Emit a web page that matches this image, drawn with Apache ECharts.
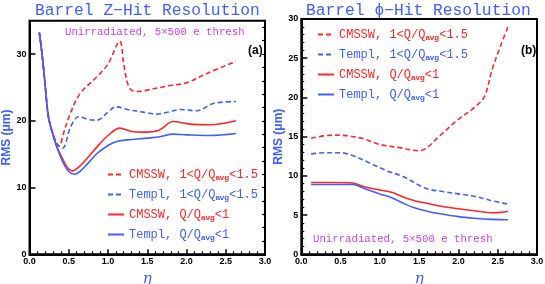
<!DOCTYPE html>
<html><head><meta charset="utf-8">
<script src="https://cdn.jsdelivr.net/npm/echarts@6/dist/echarts.min.js"></script>
<style>html,body{margin:0;padding:0;background:#fff}#c{width:545px;height:284px}</style>
</head><body><div id="c"></div>
<script>
// ---- data: [eta, RMS(um)] ----
const names = ['CMSSW, 1<Q/Qavg<1.5', 'Templ, 1<Q/Qavg<1.5', 'CMSSW, Q/Qavg<1', 'Templ, Q/Qavg<1'];
const titleZ = 'Barrel Z\u2212Hit Resolution';
const titleP = 'Barrel \u03d5\u2212Hit Resolution';
const noteText = 'Unirradiated, 5\u00d7500 e thresh';
const xTicks = [0, 0.5, 1.0, 1.5, 2.0, 2.5, 3.0];

const zCmsswHigh = [[0.125,33.2],[0.16,30],[0.2,25.3],[0.24,20.8],[0.3,18.0],[0.38,16.2],[0.43,18.0],[0.5,20.5],[0.64,24.0],[0.86,26.6],[1.0,28.5],[1.15,31.9],[1.2,28.5],[1.25,25.6],[1.3,24.6],[1.4,24.4],[1.5,24.6],[1.75,25.2],[2.0,25.7],[2.26,27.1],[2.63,28.9]];
const zTemplHigh = [[0.125,33.2],[0.16,30],[0.2,25.3],[0.24,20.8],[0.3,17.8],[0.36,16.4],[0.42,15.9],[0.52,19.0],[0.6,20.5],[0.64,20.6],[0.75,20.2],[0.86,20.1],[1.0,21.3],[1.1,22.1],[1.28,21.6],[1.45,21.3],[1.62,21.0],[1.8,21.4],[1.92,21.7],[2.13,21.5],[2.34,22.6],[2.63,22.9]];
const zCmsswLow  = [[0.125,33.2],[0.16,30],[0.2,25.3],[0.24,20.6],[0.3,18.0],[0.35,16.1],[0.43,14.1],[0.49,12.9],[0.55,12.5],[0.62,13.0],[0.7,13.9],[0.86,16.1],[1.0,17.8],[1.15,18.9],[1.3,18.4],[1.45,18.3],[1.65,18.6],[1.83,19.9],[2.04,19.5],[2.3,19.4],[2.63,20.0]];
const zTemplLow  = [[0.125,33.2],[0.16,30],[0.2,25.3],[0.24,20.6],[0.3,17.9],[0.35,16.0],[0.43,13.7],[0.5,12.4],[0.57,12.0],[0.65,12.5],[0.75,13.7],[0.86,15.1],[1.0,16.3],[1.11,16.9],[1.3,17.2],[1.5,17.4],[1.66,17.6],[1.83,18.0],[2.0,17.9],[2.3,17.8],[2.63,18.1]];

const pCmsswHigh = [[0.125,14.8],[0.4,15.2],[0.6,15.1],[0.8,14.7],[1.0,14.0],[1.25,13.6],[1.5,13.2],[1.6,13.6],[1.75,15.0],[2.0,17.2],[2.2,18.7],[2.33,20.1],[2.43,23.6],[2.53,26.4],[2.63,29.0]];
const pTemplHigh = [[0.125,12.8],[0.3,12.95],[0.5,12.95],[0.65,12.6],[0.9,11.5],[1.1,10.6],[1.3,9.9],[1.5,8.8],[1.62,8.3],[1.8,8.0],[2.0,7.7],[2.2,7.4],[2.4,6.9],[2.63,6.4]];
const pCmsswLow  = [[0.125,9.15],[0.4,9.15],[0.65,9.1],[0.8,8.6],[1.0,8.2],[1.15,7.9],[1.3,7.3],[1.45,6.8],[1.6,6.5],[1.8,6.1],[2.0,5.8],[2.2,5.55],[2.43,5.3],[2.55,5.35],[2.63,5.5]];
const pTemplLow  = [[0.125,8.9],[0.4,8.9],[0.65,8.9],[0.8,8.4],[1.0,7.7],[1.15,7.2],[1.3,6.5],[1.45,5.9],[1.6,5.5],[1.75,5.2],[2.0,4.8],[2.2,4.6],[2.43,4.45],[2.63,4.4]];

// ---- styling ----
const RED = '#ff2626', BLUE = '#3f5fff', MAG = '#cc3ff0', TBLUE = '#3f5fff';
const MONO = '"Liberation Mono", "DejaVu Sans Mono", monospace';
const SANS = '"Liberation Sans", Arial, sans-serif';
const colorOf = n => n.indexOf('CMSSW') === 0 ? RED : BLUE;
const dashOf = n => n.indexOf('1.5') > 0 ? [5, 3] : 'solid';

function legendFmt(name) {
  const c = colorOf(name) === RED ? 'r' : 'b';
  const i = name.indexOf('Qavg');
  const pre = name.slice(0, i + 1), post = name.slice(i + 4);
  return '{' + c + '|' + pre + '}{' + c + 's|avg}{' + c + '|' + post + '}';
}
const richLeg = {
  r: {color: RED, fontFamily: MONO, fontSize: 12, lineHeight: 14},
  b: {color: BLUE, fontFamily: MONO, fontSize: 12, lineHeight: 14},
  rs: {color: RED, fontFamily: SANS, fontWeight: 'bold', fontSize: 8, lineHeight: 14, padding: [7, 0, 0, 0]},
  bs: {color: BLUE, fontFamily: SANS, fontWeight: 'bold', fontSize: 8, lineHeight: 14, padding: [7, 0, 0, 0]}
};

function xAx(gi) {
  return {
    type: 'value', gridIndex: gi, min: 0, max: 3, interval: 0.5,
    name: '\u03b7', nameLocation: 'middle', nameGap: 20,
    nameTextStyle: {color: TBLUE, fontFamily: '"DejaVu Serif", serif', fontStyle: 'italic', fontSize: 15, verticalAlign: 'middle'},
    axisLine: {show: true, lineStyle: {color: '#000', width: 2}},
    axisTick: {show: true, inside: true, length: 5, lineStyle: {color: '#000', width: 1.5}},
    minorTick: {show: true, splitNumber: 5, length: 3, lineStyle: {color: '#000', width: 1.2}},
    splitLine: {show: false},
    axisLabel: {color: '#000', fontFamily: SANS, fontWeight: 'bold', fontSize: 9, margin: 3,
      formatter: v => v.toFixed(1)}
  };
}
function yAx(gi, max, interval, minorSplit, labels) {
  return {
    type: 'value', gridIndex: gi, min: 0, max: max, interval: interval,
    name: labels ? 'RMS (\u03bcm)' : '', nameLocation: 'middle', nameRotate: 90, nameGap: 16,
    nameTextStyle: {color: TBLUE, fontFamily: SANS, fontWeight: 'bold', fontSize: 12},
    axisLine: {show: true, lineStyle: {color: '#000', width: 2}},
    axisTick: {show: true, inside: true, length: labels ? 6 : 3, lineStyle: {color: '#000', width: labels ? 1.5 : 1.2}},
    minorTick: {show: minorSplit > 0, splitNumber: minorSplit || 5, length: 3, lineStyle: {color: '#000', width: 1.2}},
    splitLine: {show: false},
    axisLabel: {show: labels, showMaxLabel: max % interval === 0, color: '#000', fontFamily: SANS, fontWeight: 'bold', fontSize: 9, margin: 3}
  };
}
function ser(name, data, xi, yi) {
  return {
    type: 'line', name: name, data: data, xAxisIndex: xi, yAxisIndex: yi,
    smooth: 0.35, symbol: 'none', showSymbol: false, color: colorOf(name),
    lineStyle: {color: colorOf(name), width: 1.6, type: dashOf(name)}, z: 3
  };
}
function legend(left, top) {
  return {
    orient: 'vertical', left: left, top: top, padding: 0, itemWidth: 16, itemHeight: 14, itemGap: 5,
    selectedMode: false, data: names,
    itemStyle: {opacity: 0, borderWidth: 0},
    formatter: legendFmt, textStyle: {rich: richLeg}
  };
}
function txt(text, left, top, color, family, size, weight) {
  return {text: text, left: left, top: top, padding: 0,
    textStyle: {color: color, fontFamily: family, fontWeight: weight || 'normal', fontSize: size}};
}

const chart = echarts.init(document.getElementById('c'), null, {renderer: 'canvas'});
chart.setOption({
  animation: false,
  backgroundColor: '#fff',
  title: [
    txt(titleZ, 35, 3, TBLUE, MONO, 16.3),
    txt(titleP, 306, 3, TBLUE, MONO, 16.3),
    txt(noteText, 65, 27, MAG, MONO, 10.7),
    txt(noteText, 313, 234, MAG, MONO, 10.7),
    txt('(a)', 248, 45, '#000', SANS, 12, 'bold'),
    txt('(b)', 521, 45, '#000', SANS, 12, 'bold')
  ],
  grid: [
    {left: 29.5, top: 20.7, width: 235.5, height: 233.6, containLabel: false, outerBoundsMode: 'none',
     show: true, borderColor: '#000', borderWidth: 2, backgroundColor: 'transparent'},
    {left: 301.3, top: 19, width: 235.7, height: 235.3, containLabel: false, outerBoundsMode: 'none',
     show: true, borderColor: '#000', borderWidth: 2, backgroundColor: 'transparent'}
  ],
  xAxis: [xAx(0), xAx(1)],
  yAxis: [yAx(0, 35, 10, 0, true), yAx(0, 35, 2, 0, false), yAx(1, 30, 5, 5, true)],
  legend: [legend(107, 167), legend(317, 27)],
  series: [
    ser(names[0], zCmsswHigh, 0, 0), ser(names[1], zTemplHigh, 0, 0),
    ser(names[2], zCmsswLow, 0, 0), ser(names[3], zTemplLow, 0, 0),
    ser(names[0], pCmsswHigh, 1, 2), ser(names[1], pTemplHigh, 1, 2),
    ser(names[2], pCmsswLow, 1, 2), ser(names[3], pTemplLow, 1, 2)
  ]
});
</script></body></html>
